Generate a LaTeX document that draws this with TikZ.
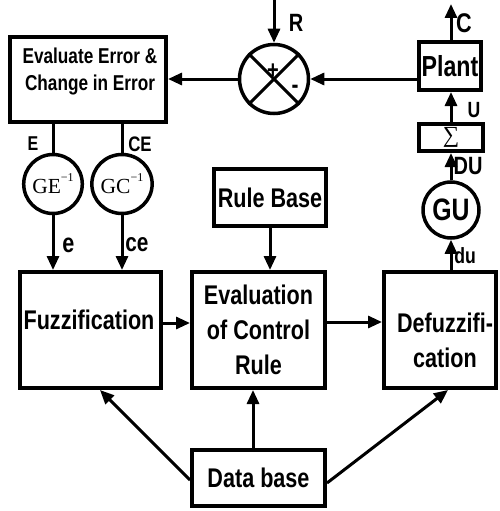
\documentclass[tikz,border=0pt]{standalone}
\usepackage{fontspec}
\setmainfont{Liberation Sans}[FakeStretch=0.8]
\newfontfamily\serifx{Liberation Serif}
\usetikzlibrary{arrows.meta,shapes.geometric}
\tikzset{
  box/.style={draw, line width=4pt, inner sep=0pt, align=center},
  circ/.style={draw, line width=3.5pt, inner sep=0pt},
  arr/.style={line width=3pt, -{Triangle[length=14pt,width=12pt]}},
  ln/.style={line width=3pt},
  big/.style={font=\bfseries\fontsize{27}{35}\selectfont, align=center},
  mid/.style={font=\bfseries\fontsize{21.5}{27}\selectfont, align=center},
  lbl/.style={font=\bfseries\fontsize{23}{23}\selectfont, inner sep=0pt},
}
\begin{document}
\begin{tikzpicture}[x=1pt,y=-1pt]
\useasboundingbox (0,0) rectangle (500,511);
% boxes
\node[box, minimum width=156pt, minimum height=85pt] (err) at (88,79.5) {};
\node[mid] (errT) at (90,71.5) {Evaluate Error \&\\Change in Error};
\node[circ, circle, minimum size=69pt] (sum) at (274,79) {};
\node[box, minimum width=62pt, minimum height=48pt, font=\bfseries\fontsize{29}{29}\selectfont] (plant) at (450,66) {Plant};
\node[box, minimum width=64pt, minimum height=27pt, font=\serifx\fontsize{23}{23}\selectfont] (sig) at (451,137.5) {∑};
\node[circ, circle, minimum size=56pt, font=\bfseries\fontsize{31}{31}\selectfont] (gu) at (451,210) {GU};
\node[circ, ellipse, minimum width=50pt, minimum height=59pt, font=\serifx\fontsize{21.5}{21.5}\selectfont] (ge) at (53,184) {GE\raisebox{0.55em}{\fontsize{12}{12}\selectfont −1}};
\node[circ, ellipse, minimum width=50pt, minimum height=59pt, font=\serifx\fontsize{21.5}{21.5}\selectfont] (gc) at (122,184) {GC\raisebox{0.55em}{\fontsize{12}{12}\selectfont −1}};
\node[box, big, minimum width=112pt, minimum height=57pt] (rb) at (270,197.5) {Rule Base};
\node[box, minimum width=141pt, minimum height=116pt] (fuzz) at (90.5,330) {};
\node[big] (fuzzT) at (89,320) {Fuzzification};
\node[box, big, minimum width=133pt, minimum height=116pt] (rule) at (258.5,330) {Evaluation\\of Control\\Rule};
\node[box, minimum width=112pt, minimum height=116pt] (defz) at (440,330) {};
\node[big] (defzT) at (445,340) {Defuzzifi-\\cation};
\node[box, big, minimum width=133pt, minimum height=56pt] (db) at (258.5,478) {Data base};
% sum cross and signs
\draw[ln] (sum.north west) -- (sum.south east);
\draw[ln] (sum.north east) -- (sum.south west);
\node[font=\bfseries\fontsize{25}{25}\selectfont, inner sep=0pt] (plus) at (273,71) {+};
\node[font=\bfseries\fontsize{26}{26}\selectfont, inner sep=0pt] (minus) at (295,89) {-};
% free ends
\coordinate (rin) at (274,0);
\coordinate (cout) at (451,4);
% connectors
\draw[arr] (rin) -- (sum.north);
\draw[arr] (sum.west) -- (err.east |- sum.west);
\draw[arr] (plant.west |- sum.east) -- (sum.east);
\draw[arr] (plant.north -| cout) -- (cout);
\draw[arr] (sig.north) -- (plant.south -| sig);
\draw[arr] (gu.north) -- (sig.south -| gu);
\draw[arr] (defz.north -| gu) -- (gu.south);
\draw[ln] (err.south -| ge) -- (ge.north);
\draw[ln] (err.south -| gc) -- (gc.north);
\draw[arr] (ge.south) -- (fuzz.north -| ge);
\draw[arr] (gc.south) -- (fuzz.north -| gc);
\draw[arr] (rb.south) -- (rule.north -| rb);
\draw[arr] ([yshift=7pt]fuzz.east) -- ([yshift=7pt]rule.west);
\draw[arr] ([yshift=8pt]rule.east) -- ([yshift=8pt]defz.west);
\draw[arr] ([xshift=-5.5pt]db.north) -- ([xshift=-5.5pt]rule.south);
\draw[arr] ([yshift=-2pt]db.west) -- ([xshift=9.5pt]fuzz.south);
\draw[arr] ([yshift=-5pt]db.east) -- ([xshift=8pt]defz.south);
% labels
\node[lbl, font=\bfseries\fontsize{25}{25}\selectfont] (lR) at (296,23) {R};
\node[lbl, font=\bfseries\fontsize{27}{27}\selectfont] (lC) at (464,23) {C};
\node[lbl, font=\bfseries\fontsize{22}{22}\selectfont] (lU) at (474,110) {U};
\node[lbl, font=\bfseries\fontsize{25}{25}\selectfont] (lDU) at (468,166) {DU};
\node[lbl, font=\bfseries\fontsize{22}{22}\selectfont] (ldu) at (465,256) {du};
\node[lbl, font=\bfseries\fontsize{20}{20}\selectfont] (lE) at (33,144) {E};
\node[lbl, font=\bfseries\fontsize{21}{21}\selectfont] (lCE) at (140,144) {CE};
\node[lbl, font=\bfseries\fontsize{27}{27}\selectfont] (le) at (68.5,245) {e};
\node[lbl, font=\bfseries\fontsize{26}{26}\selectfont] (lce) at (137,245) {ce};
\end{tikzpicture}
\end{document}
